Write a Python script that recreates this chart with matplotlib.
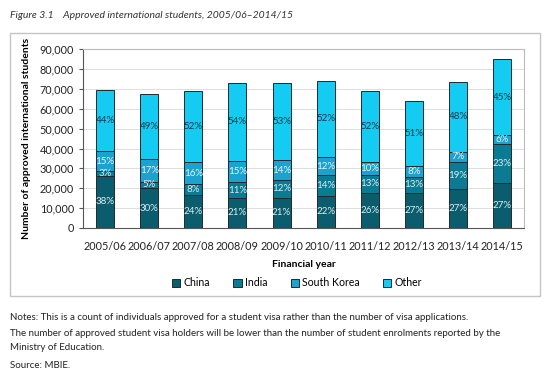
import numpy as np
import matplotlib.pyplot as plt
from matplotlib.patches import Rectangle

plt.rcParams['font.family'] = ['Lato', 'DejaVu Sans']

# Data (approved student visa holders)
years = ['2005/06', '2006/07', '2007/08', '2008/09', '2009/10',
         '2010/11', '2011/12', '2012/13', '2013/14', '2014/15']
china = [26400, 20000, 16600, 15100, 15300, 16300, 17800, 17400, 19600, 22700]
india = [2100, 3300, 5500, 7900, 8700, 10400, 8800, 8500, 13800, 19400]
south_korea = [10400, 11200, 11100, 10800, 10200, 8900, 6800, 5200, 5000, 4900]
other = [30500, 32700, 35900, 39300, 38600, 38500, 35500, 33000, 34900, 37800]

series = [('China', china, '#0b5d6e', '#d8eef2'),
          ('India', india, '#0a7b93', '#d8eef2'),
          ('South Korea', south_korea, '#1ba2cf', '#e6f6fb'),
          ('Other', other, '#14ccf2', '#123848')]

fig = plt.figure(figsize=(5.5, 3.75), dpi=100)

# outer frame round the chart
fig.patches.append(Rectangle((0.018, 0.211), 0.964, 0.701, transform=fig.transFigure,
                             fill=False, edgecolor='#c4c4c4', lw=1.0))
fig.text(0.018, 0.96, 'Figure 3.1    Approved international students, 2005/06\u20132014/15',
         fontsize=7.5, style='italic', color='#333333', va='center')

ax = fig.add_axes([0.151, 0.392, 0.802, 0.477])

x = np.arange(len(years))
totals = np.array(china) + np.array(india) + np.array(south_korea) + np.array(other)
bottom = np.zeros(len(years))
for name, vals, col, tcol in series:
    vals = np.array(vals)
    ax.bar(x, vals, 0.41, bottom=bottom, color=col, edgecolor='#1c2b30', lw=0.7,
           label=name, zorder=3)
    for xi, v, b, t in zip(x, vals, bottom, totals):
        ax.text(xi, b + v / 2, f'{round(100 * v / t)}%', ha='center', va='center',
                fontsize=7, color=tcol, zorder=4)
    bottom += vals

ax.set_xlim(-0.5, len(years) - 0.5)
ax.set_ylim(0, 90000)
ax.set_yticks(np.arange(0, 90001, 10000))
ax.set_yticklabels([f'{v:,}' for v in range(0, 90001, 10000)])
ax.set_xticks(x)
ax.set_xticklabels(years)
ax.tick_params(axis='both', labelsize=7.8, colors='#222222', length=0)
ax.tick_params(axis='x', pad=9)
ax.tick_params(axis='y', length=3, direction='out', color='#555555')
ax.grid(axis='y', color='#dddddd', lw=0.7, zorder=0)
for s in ['top', 'right']:
    ax.spines[s].set_color('#bbbbbb')
ax.spines['left'].set_color('#555555')
ax.spines['bottom'].set_color('#555555')

ax.set_xlabel('Financial year', fontsize=7.5, fontweight='bold', labelpad=6)
ax.set_ylabel('Number of approved international students', fontsize=7.5,
              fontweight='bold', labelpad=6)

fig.legend(loc='center', bbox_to_anchor=(0.54, 0.246), ncol=4, frameon=False,
           fontsize=7.6, handlelength=0.8, handleheight=0.8, handletextpad=0.3,
           columnspacing=2.2)

notes = ['Notes: This is a count of individuals approved for a student visa rather than the number of visa applications.',
         'The number of approved student visa holders will be lower than the number of student enrolments reported by the',
         'Ministry of Education.',
         'Source: MBIE.']
for txt, yy in zip(notes, [317, 334, 348, 365]):
    fig.text(0.018, 1 - yy / 375, txt, fontsize=7, color='#222222', va='center')

fig.savefig('out.png', dpi=100)
